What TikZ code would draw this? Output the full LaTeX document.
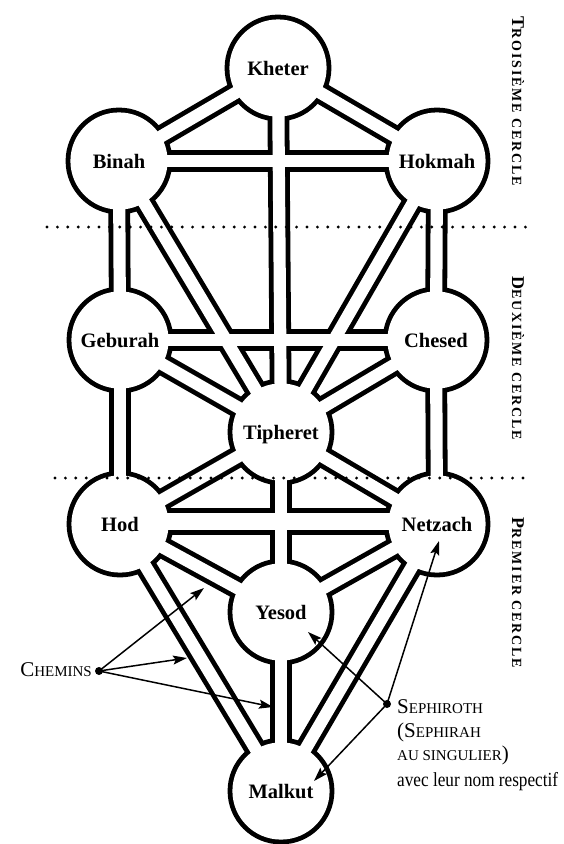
\documentclass[tikz,border=0pt]{standalone}
\usepackage{fontspec}
\setmainfont{Liberation Serif}
\newfontfamily\spacedfont[LetterSpace=13]{Liberation Serif}
\newfontfamily\narrowfont[FakeStretch=0.86]{Liberation Serif}
\usetikzlibrary{arrows.meta}
\pgfdeclarelayer{paper}
\pgfdeclarelayer{outer}
\pgfdeclarelayer{inner}
\pgfsetlayers{paper,outer,inner,main}
\newcommand\capsc[2]{{\fontsize{21}{24}\selectfont #1}{\fontsize{15}{24}\selectfont #2}}
\newcommand\sidesc[2]{{\fontsize{18}{18}\selectfont #1}{\fontsize{14}{18}\selectfont #2}}
\begin{document}
\begin{tikzpicture}[x=1pt,y=-1pt,
  sephirah/.style={circle,minimum size=102pt,inner sep=0pt,
    font=\bfseries\fontsize{20.5}{24}\selectfont,text height=14pt,text depth=0pt},
  chanout/.style={line width=21.8pt,black},
  chanin/.style={line width=12.2pt,white},
  wideout/.style={line width=26.8pt,black},
  widein/.style={line width=17.2pt,white},
  dotline/.style={line width=3.2pt,dash pattern=on 0pt off 10.4pt,line cap=round},
  pointer/.style={line width=1.5pt,-{Stealth[length=14pt,width=9pt,inset=2.5pt]}},
  blackdot/.style={circle,fill=black,inner sep=0pt,minimum size=8pt},
  sidelabel/.style={rotate=-90,anchor=base,inner sep=0pt,font=\spacedfont\bfseries},
  ]
\useasboundingbox (0,0) rectangle (564,844);
\begin{pgfonlayer}{paper}
\fill[white] (0,0) rectangle (564,844);
\end{pgfonlayer}

% sephiroth
\node[sephirah] (kheter)   at (278,68)  {Kheter};
\node[sephirah] (binah)    at (119,161) {Binah};
\node[sephirah] (hokmah)   at (437,161) {Hokmah};
\node[sephirah] (geburah)  at (120,340) {Geburah};
\node[sephirah] (chesed)   at (436,340) {Chesed};
\node[sephirah] (tipheret) at (281,432) {Tipheret};
\node[sephirah] (hod)      at (120,524) {Hod};
\node[sephirah] (netzach)  at (437,524) {Netzach};
\node[sephirah] (yesod)    at (281,612) {Yesod};
\node[sephirah] (malkut)   at (281,791) {Malkut};

\def\paths{kheter/binah,kheter/hokmah,kheter/tipheret,binah/hokmah,
  binah/geburah,hokmah/chesed,binah/tipheret,hokmah/tipheret,
  geburah/chesed,geburah/tipheret,chesed/tipheret,geburah/hod,
  chesed/netzach,tipheret/hod,tipheret/netzach,tipheret/yesod,
  hod/yesod,netzach/yesod,hod/malkut,netzach/malkut,yesod/malkut}
\def\sefs{kheter,binah,hokmah,geburah,chesed,tipheret,hod,netzach,yesod,malkut}

\begin{pgfonlayer}{outer}
\foreach \a/\b in \paths {\draw[chanout] (\a.center) -- (\b.center);}
\draw[wideout] ([yshift=2.5pt]hod.center) -- ([yshift=2.5pt]netzach.center);
\foreach \s in \sefs {\fill[black] (\s.center) circle[radius=53.4pt];}
\end{pgfonlayer}
\begin{pgfonlayer}{inner}
\foreach \a/\b in \paths {\draw[chanin] (\a.center) -- (\b.center);}
\draw[widein] ([yshift=2.5pt]hod.center) -- ([yshift=2.5pt]netzach.center);
\foreach \s in \sefs {\fill[white] (\s.center) circle[radius=48.6pt];}
\end{pgfonlayer}

% dotted separators
\draw[dotline] (47,227) -- (533,227);
\draw[dotline] (55,478) -- (533,478);

% side labels
\node[sidelabel] (third)  at (512,101.5) {\sidesc{T}{ROISIÈME CERCLE}};
\node[sidelabel] (second) at (512,358)   {\sidesc{D}{EUXIÈME CERCLE}};
\node[sidelabel] (first)  at (512,593)   {\sidesc{P}{REMIER CERCLE}};

% Chemins
\node[blackdot] (chdot) at (99,671) {};
\node[anchor=base east,inner sep=0pt] (chemins) at (92,676) {\capsc{C}{HEMINS}};
\coordinate (ch1) at (204,588);
\coordinate (ch2) at (187,658);
\coordinate (ch3) at (273,707);
\draw[pointer] (chdot.center) -- (ch1);
\draw[pointer] (chdot.center) -- (ch2);
\draw[pointer] (chdot.center) -- (ch3);

% Sephiroth
\node[blackdot] (sedot) at (387,704) {};
\node[anchor=base west,inner sep=0pt,align=left,
  font=\fontsize{21}{23.5}\selectfont] (sephiroth) at (397,786.5)
  {\capsc{S}{EPHIROTH}\\
   (\capsc{S}{EPHIRAH}\\
   {\fontsize{15}{24}\selectfont AU SINGULIER})\\[2.5pt]
   {\narrowfont\fontsize{20}{24}\selectfont avec leur nom respectif}};
\coordinate (se1) at (308,632);
\coordinate (se2) at (439,541);
\coordinate (se3) at (314,781);
\draw[pointer] (sedot.center) -- (se1);
\draw[pointer] (sedot.center) -- (se2);
\draw[pointer] (sedot.center) -- (se3);
\end{tikzpicture}
\end{document}
